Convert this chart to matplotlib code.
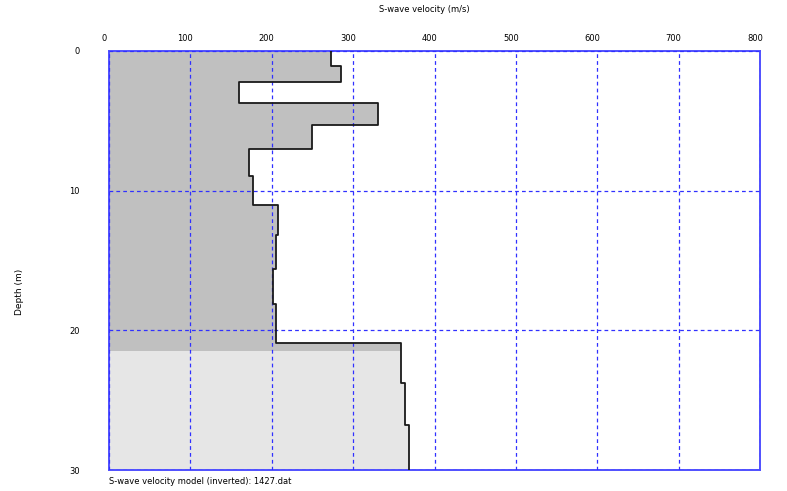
import numpy as np
import matplotlib
matplotlib.use("Agg")
import matplotlib.pyplot as plt
import matplotlib.transforms as mtransforms

# DATA
layer_tops = [0, 1.05, 2.24, 3.74, 5.3, 7.0, 8.97, 11.0, 13.2, 15.6, 18.1, 20.9, 23.8, 26.8]
max_depth = 30
velocities = [273, 285, 160, 331, 249, 172, 177, 208, 205, 202, 205, 359, 364, 368.5]
resolved_depth = 21.45  # below this the model is shaded lighter
x_ticks = [0, 100, 200, 300, 400, 500, 600, 700, 800]
y_ticks = [0, 10, 20, 30]

W, H, DPI = 787, 491, 100
BLUE = "#3030ff"

# step profile
bottoms = layer_tops[1:] + [max_depth]
depth_pts = np.ravel(np.column_stack([layer_tops, bottoms]))
vel_pts = np.repeat(velocities, 2)

fig = plt.figure(figsize=(W / DPI, H / DPI), dpi=DPI)
ax = fig.add_axes([109 / W, 21 / H, 651 / W, 419 / H])

upper = depth_pts <= resolved_depth
v_cut = np.interp(resolved_depth, depth_pts, vel_pts)
# dark shading down to resolved depth, light below
d_up = np.append(depth_pts[upper], resolved_depth)
v_up = np.append(vel_pts[upper], v_cut)
ax.fill_betweenx(d_up, 0, v_up, color="#c0c0c0", lw=0, zorder=1)
d_lo = np.insert(depth_pts[~upper], 0, resolved_depth)
v_lo = np.insert(vel_pts[~upper], 0, v_cut)
ax.fill_betweenx(d_lo, 0, v_lo, color="#e6e6e6", lw=0, zorder=1)

ax.plot(vel_pts, depth_pts, color="#1a1a1a", lw=1.3, zorder=3)

ax.set_xlim(0, 800)
ax.set_ylim(max_depth, 0)
ax.set_xticks(x_ticks)
ax.set_yticks(y_ticks)
ax.xaxis.tick_top()
ax.tick_params(axis="x", length=0, pad=6, labelsize=6)
ax.tick_params(axis="y", length=0, pad=21, labelsize=6)
# labels sit a little left of their gridlines in the original
shift = mtransforms.ScaledTranslation(-5 / DPI, 0, fig.dpi_scale_trans)
for lbl in ax.get_xticklabels():
    lbl.set_transform(lbl.get_transform() + shift)
ax.grid(True, color=BLUE, ls=(0, (3, 2.5)), lw=0.9, zorder=2)
ax.set_axisbelow(False)
for s in ax.spines.values():
    s.set_color("#5050ff")
    s.set_linewidth(1.4)

fig.text(424 / W, 1 - 10 / H, "S-wave velocity (m/s)", fontsize=6, ha="center", va="center")
fig.text(20 / W, 1 - 292 / H, "Depth (m)", fontsize=6.5, rotation=90, ha="center", va="center")
fig.text(109 / W, 1 - 482 / H, "S-wave velocity model (inverted): 1427.dat", fontsize=6, ha="left", va="center")

fig.savefig("out.png", dpi=DPI)
